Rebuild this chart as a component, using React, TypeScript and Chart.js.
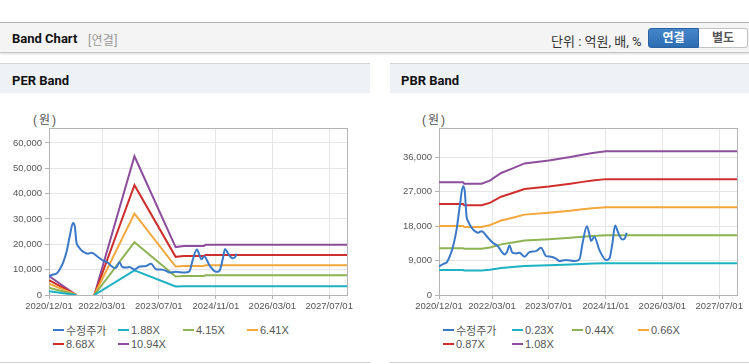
import React, { useEffect, useRef } from "react";
import { Chart, registerables } from "chart.js";

Chart.register(...registerables);

const FONT = '"Liberation Sans", Arial, "Noto Sans CJK KR", sans-serif';
const HEAD_FONT = 'Roboto, "Noto Sans CJK KR", sans-serif';

// ---------- data ----------
const X_START = "2020/12/01";
const X_END = "2027/12/01";
const X_TICK_LABELS = ["2020/12/01", "2022/03/01", "2023/07/01", "2024/11/01", "2026/03/01", "2027/07/01"];

const PRICE_DATES = [
  "2020/12/01", "2021/01/05", "2021/02/07", "2021/03/04", "2021/04/01", "2021/05/01", "2021/05/28",
  "2021/06/25", "2021/07/10", "2021/07/25", "2021/08/07", "2021/09/07", "2021/10/04", "2021/11/01",
  "2021/12/01", "2022/01/25", "2022/03/07", "2022/04/19", "2022/05/19", "2022/06/16", "2022/07/07",
  "2022/07/28", "2022/08/22", "2022/09/25", "2022/10/22", "2022/12/04", "2023/01/16", "2023/03/13",
  "2023/04/25", "2023/06/07", "2023/07/19", "2023/09/01", "2023/10/01", "2023/11/25", "2024/02/07",
  "2024/03/19", "2024/04/16", "2024/05/22", "2024/06/13", "2024/06/28", "2024/07/25", "2024/09/07",
  "2024/11/04", "2024/12/01", "2024/12/28", "2025/01/19", "2025/02/10", "2025/02/25", "2025/03/22",
  "2025/04/16", "2025/04/28",
];
const PRICE_VALUES = [
  7500, 8100, 8600, 10170, 12780, 17140, 23220,
  28440, 27130, 20610, 19310, 17580, 16700, 16280,
  16700, 14980, 13670, 12780, 11480, 10620, 11220,
  12970, 11060, 10880, 11060, 10020, 11220, 11480,
  12370, 10170, 10020, 9500, 8870, 9130, 8870,
  9310, 13670, 18000, 15840, 14090, 15240, 11740,
  9130, 9500, 13670, 18180, 16700, 15580, 14530,
  14970, 16280,
];

const PER_SERIES_LABELS = ["수정주가", "1.88X", "4.15X", "6.41X", "8.68X", "10.94X"];
const PER_BAND_DATES = [
  "2020/12/01", "2021/07/22", "2021/10/01", "2021/12/25", "2022/12/04",
  "2023/11/22", "2024/02/01", "2024/07/20", "2024/08/04", "2027/12/01",
];
const PER_BAND_188 = [1450, 0, null, 0, 9700, 3400, 3450, 3450, 3500, 3500];
const PER_BAND_415 = [2880, 0, null, 0, 20850, 7300, 7450, 7450, 7800, 7800];
const PER_BAND_641 = [4450, 0, null, 0, 32150, 11250, 11450, 11450, 11750, 11750];
const PER_BAND_868 = [5850, 0, null, 0, 43350, 15050, 15350, 15350, 15750, 15750];
const PER_BAND_1094 = [7480, 0, null, 0, 54750, 18900, 19300, 19300, 19800, 19800];
const PER_Y_TICKS = [0, 10000, 20000, 30000, 40000, 50000, 60000];
const PER_Y_MAX = 65900;

const PBR_SERIES_LABELS = ["수정주가", "0.23X", "0.44X", "0.66X", "0.87X", "1.08X"];
const PBR_BAND_DATES = [
  "2020/12/01", "2021/06/25", "2021/07/05", "2021/12/01", "2022/02/10", "2022/05/18", "2022/08/25",
  "2022/12/04", "2023/07/01", "2024/01/01", "2024/04/15", "2024/07/10", "2024/11/01", "2027/12/01",
];
const PBR_BAND_023 = [6520, 6520, 6430, 6430, 6610, 7050, 7320, 7600, 7780, 7980, 8110, 8210, 8310, 8310];
const PBR_BAND_044 = [12240, 12240, 12080, 12080, 12410, 13240, 13740, 14280, 14610, 14980, 15230, 15420, 15600, 15600];
const PBR_BAND_066 = [18020, 18020, 17780, 17780, 18270, 19490, 20220, 21020, 21510, 22060, 22420, 22700, 22970, 22970];
const PBR_BAND_087 = [23780, 23780, 23450, 23450, 24100, 25710, 26680, 27730, 28370, 29100, 29580, 29940, 30300, 30300];
const PBR_BAND_108 = [29500, 29500, 29100, 29100, 29900, 31900, 33100, 34400, 35200, 36100, 36700, 37150, 37600, 37600];
const PBR_Y_TICKS = [0, 9000, 18000, 27000, 36000];
const PBR_Y_MAX = 43670;

const SERIES_COLORS = ["#3a78c8", "#1cb2c3", "#8db352", "#f4a73a", "#cf2f2c", "#8d4e9c"];

// ---------- helpers ----------
const parseDay = (s: string) => {
  const [y, m, d] = s.split("/").map(Number);
  return Date.UTC(y, m - 1, d) / 86400000;
};
const toDay = (s: string) => Math.round(parseDay(s) - parseDay(X_START));
const points = (dates: string[], values: (number | null)[]) =>
  dates.map((d, i) => ({ x: toDay(d), y: values[i] }));

const plotBorder = {
  id: "plotBorder",
  beforeDatasetsDraw(chart: any) {
    const { ctx, chartArea: a } = chart;
    ctx.save();
    ctx.strokeStyle = "#b4b4b4";
    ctx.lineWidth = 1;
    ctx.strokeRect(Math.round(a.left) + 0.5, Math.round(a.top) + 0.5, Math.round(a.right - a.left), Math.round(a.bottom - a.top));
    ctx.restore();
  },
};

function makeConfig(
  bandDates: string[],
  bands: (number | null)[][],
  labels: string[],
  yTicks: number[],
  yMax: number,
  rightPad: number
): any {
  const datasets = [
    {
      label: labels[0],
      data: points(PRICE_DATES, PRICE_VALUES),
      borderColor: SERIES_COLORS[0],
      borderWidth: 2,
      pointRadius: 0,
      cubicInterpolationMode: "monotone",
      fill: false,
    },
    ...bands.map((vals, i) => ({
      label: labels[i + 1],
      data: points(bandDates, vals),
      borderColor: SERIES_COLORS[i + 1],
      borderWidth: 2,
      pointRadius: 0,
      tension: 0,
      fill: false,
    })),
  ];
  const tickFont = { family: FONT, size: 9.5 };
  return {
    type: "line",
    data: { datasets },
    options: {
      responsive: false,
      animation: false,
      events: [],
      layout: { padding: { top: 28, right: rightPad, bottom: 0, left: 0 } },
      plugins: { legend: { display: false }, tooltip: { enabled: false } },
      scales: {
        x: {
          type: "linear",
          min: 0,
          max: toDay(X_END),
          afterBuildTicks: (s: any) => {
            s.ticks = X_TICK_LABELS.map((l) => ({ value: toDay(l) }));
          },
          afterFit: (s: any) => {
            s.height = 25;
          },
          ticks: {
            callback: (_v: any, i: number) => X_TICK_LABELS[i],
            font: tickFont,
            color: "#555",
            padding: 2,
            maxRotation: 0,
            autoSkip: false,
          },
          grid: { color: "#e6e6e6", tickColor: "#b4b4b4", tickLength: 4 },
          border: { display: false },
        },
        y: {
          type: "linear",
          min: 0,
          max: yMax,
          afterBuildTicks: (s: any) => {
            s.ticks = yTicks.map((v) => ({ value: v }));
          },
          afterFit: (s: any) => {
            s.width = 49;
          },
          ticks: {
            callback: (v: any) => Number(v).toLocaleString("en-US"),
            font: tickFont,
            color: "#555",
            padding: 3,
          },
          grid: { color: "#e6e6e6", tickColor: "#b4b4b4", tickLength: 4 },
          border: { display: false },
        },
      },
    },
    plugins: [plotBorder],
  };
}

function ChartCanvas({ left, width, config }: { left: number; width: number; config: () => any }) {
  const ref = useRef<HTMLCanvasElement>(null);
  useEffect(() => {
    const chart = new Chart(ref.current as HTMLCanvasElement, config());
    return () => chart.destroy();
  }, []);
  return (
    <canvas
      ref={ref}
      width={width}
      height={220}
      style={{ position: "absolute", left, top: 100, width, height: 220 }}
    />
  );
}

const LEGEND_ROW_TOPS = [323.5, 337];

function Legend({ labels, columns }: { labels: string[]; columns: number[] }) {
  return (
    <>
      {labels.map((l, i) => {
        const row = Math.floor(i / 4);
        const col = i % 4;
        return (
          <div
            key={l}
            style={{
              position: "absolute",
              left: columns[col],
              top: LEGEND_ROW_TOPS[row],
              height: 13,
              display: "flex",
              alignItems: "center",
              font: `11px ${FONT}`,
              color: "#555",
              whiteSpace: "nowrap",
            }}
          >
            <span style={{ display: "inline-block", width: 11, height: 2, background: SERIES_COLORS[i], marginRight: 2 }} />
            {l}
          </div>
        );
      })}
    </>
  );
}

function PanelHeader({ left, width, title, textLeft }: { left: number; width: number; title: string; textLeft: number }) {
  return (
    <>
      <div
        style={{
          position: "absolute",
          left,
          top: 63,
          width,
          height: 29,
          borderTop: "1px solid #d4d4d4",
          background: "#eef2f7",
        }}
      />
      <div
        style={{
          position: "absolute",
          left: textLeft,
          top: 72.5,
          lineHeight: "14px",
          font: `bold 13px ${HEAD_FONT}`,
          color: "#111",
        }}
      >
        {title}
      </div>
      <div style={{ position: "absolute", left, top: 362, width, height: 1, background: "#d0d0d0" }} />
    </>
  );
}

export default function App() {
  return (
    <div
      style={{
        position: "fixed",
        left: 0,
        top: 0,
        width: 749,
        height: 364,
        background: "#fff",
        overflow: "hidden",
        fontFamily: FONT,
      }}
    >
      {/* top header */}
      <div
        style={{
          position: "absolute",
          left: 0,
          top: 22,
          width: 749,
          height: 29,
          background: "#f4f4f4",
          borderTop: "1px solid #b5b5b5",
          borderBottom: "1px solid #c4c4c4",
          boxShadow: "0 1px 2px rgba(0,0,0,0.15)",
        }}
      />
      <div style={{ position: "absolute", left: 12, top: 31, lineHeight: "14px", font: `bold 13px ${HEAD_FONT}`, color: "#111" }}>
        Band Chart
      </div>
      <div style={{ position: "absolute", left: 88, top: 31, lineHeight: "14px", font: `12px ${HEAD_FONT}`, color: "#999", letterSpacing: "0.3px" }}>
        [연결]
      </div>
      <div style={{ position: "absolute", left: 551, top: 31, lineHeight: "14px", font: `13px ${HEAD_FONT}`, color: "#333" }}>
        단위 : 억원, 배, %
      </div>
      <div
        style={{
          position: "absolute",
          left: 648,
          top: 28,
          width: 51,
          height: 20,
          boxSizing: "border-box",
          background: "linear-gradient(#4586cb, #2e6cb1)",
          border: "1px solid #2b62a3",
          borderRadius: "3px 0 0 3px",
          color: "#fff",
          font: `bold 12px ${HEAD_FONT}`,
          lineHeight: "18px",
          textAlign: "center",
        }}
      >
        연결
      </div>
      <div
        style={{
          position: "absolute",
          left: 699,
          top: 28,
          width: 49,
          height: 20,
          boxSizing: "border-box",
          background: "#fff",
          border: "1px solid #c2c2c2",
          borderLeft: "none",
          borderRadius: "0 3px 3px 0",
          color: "#555",
          font: `bold 12px ${HEAD_FONT}`,
          lineHeight: "18px",
          textAlign: "center",
        }}
      >
        별도
      </div>

      {/* PER panel */}
      <PanelHeader left={0} width={370} title="PER Band" textLeft={12} />
      <div style={{ position: "absolute", left: 33, top: 110, lineHeight: "14px", font: `12px ${FONT}`, color: "#555", letterSpacing: "2px" }}>(원)</div>
      <ChartCanvas
        left={0}
        width={370}
        config={() =>
          makeConfig(
            PER_BAND_DATES,
            [PER_BAND_188, PER_BAND_415, PER_BAND_641, PER_BAND_868, PER_BAND_1094],
            PER_SERIES_LABELS,
            PER_Y_TICKS,
            PER_Y_MAX,
            23
          )
        }
      />
      <Legend labels={PER_SERIES_LABELS} columns={[53, 118, 183, 247]} />

      {/* PBR panel */}
      <PanelHeader left={390} width={359} title="PBR Band" textLeft={401} />
      <div style={{ position: "absolute", left: 422, top: 110, lineHeight: "14px", font: `12px ${FONT}`, color: "#555", letterSpacing: "2px" }}>(원)</div>
      <ChartCanvas
        left={390}
        width={359}
        config={() =>
          makeConfig(
            PBR_BAND_DATES,
            [PBR_BAND_023, PBR_BAND_044, PBR_BAND_066, PBR_BAND_087, PBR_BAND_108],
            PBR_SERIES_LABELS,
            PBR_Y_TICKS,
            PBR_Y_MAX,
            12
          )
        }
      />
      <Legend labels={PBR_SERIES_LABELS} columns={[443, 512, 572, 638]} />
    </div>
  );
}
